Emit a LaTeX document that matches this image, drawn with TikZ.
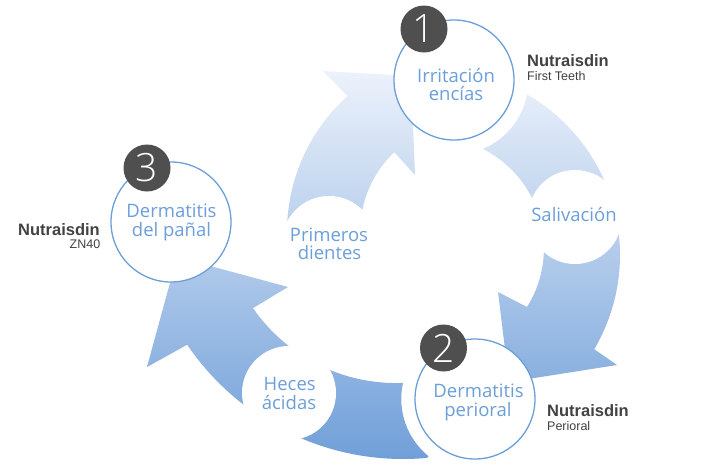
\documentclass[tikz,border=0pt]{standalone}
\usepackage{fontspec}
\setmainfont{Liberation Sans}
\newfontfamily\labfont{Open Sans}
\newfontfamily\thinfont{Open Sans Light}
\definecolor{ringblue}{HTML}{6C9FD9}
\definecolor{badgegray}{HTML}{4F4F4F}
\definecolor{prodgray}{HTML}{424242}
\definecolor{gtop}{RGB}{240,244,252}
\definecolor{gbot}{RGB}{112,159,216}
\begin{document}
\begin{tikzpicture}[x=1pt,y=-1pt,
  stage/.style={circle, draw=ringblue, line width=1.3pt, fill=white, minimum size=120pt, inner sep=0pt},
  blob/.style={circle, fill=white, minimum size=94pt, inner sep=0pt},
  badgecirc/.style={circle, fill=badgegray, minimum size=47pt, inner sep=0pt, text=white, font=\thinfont\fontsize{39}{39}\selectfont},
  lab/.style={text=ringblue, font=\labfont\fontsize{18.5}{20}\selectfont, anchor=base, inner sep=0pt},
  prodname/.style={text=prodgray, font=\bfseries\fontsize{16.5}{18}\selectfont, inner sep=0pt},
  prodsub/.style={text=prodgray, font=\fontsize{12.5}{13}\selectfont, inner sep=0pt},
]
\useasboundingbox (0,0) rectangle (709,474);
\fill[white] (0,0) rectangle (709,474);
% curved arrows with one common vertical gradient
\begin{scope}
\clip
  (470,232) ++(181:183) arc[start angle=181, end angle=228, radius=183]
    -- (323,71) -- (411,76) -- (415,175) -- (394.3,152.2)
    arc[start angle=226.5, end angle=185, radius=110] -- cycle
  (435,255) ++(-60.4:185) arc[start angle=-60.4, end angle=30.6, radius=185]
    -- (617,365) -- (509,382) -- (498,292) -- (527.0,307.0)
    arc[start angle=32.1, end angle=-63.2, radius=111]
    arc[start angle=67.2, end angle=11.0, radius=74] -- cycle
  (403,198) ++(84.7:261) arc[start angle=84.7, end angle=145.8, radius=261]
    -- (147,367) -- (177,257) -- (288,287) -- (253.0,308.1)
    arc[start angle=145.3, end angle=87.7, radius=174]
    arc[start angle=192.5, end angle=129.1, radius=74] -- cycle;
\shade[top color=gtop, bottom color=gbot] (0,60) rectangle (709,460);
\end{scope}
% intermediate blobs
\node[blob] (prim) at (329,243) {};
\node[blob] (saliv) at (575,217) {};
\node[blob] (heces) at (289,393) {};
% stage circles
\node[stage] (s1) at (454,80) {};
\node[stage] (s2) at (475,399) {};
\node[stage] (s3) at (171,222) {};
\node[badgecirc] (b1) at (424,29) {1};
\node[badgecirc] (b2) at (443.5,348) {2};
\node[badgecirc] (b3) at (147,168) {3};
% stage texts
\node[lab] (s1a) at (456,82) {Irritación};
\node[lab] (s1b) at (456,100) {encías};
\node[lab] (s2a) at (478.5,397) {Dermatitis};
\node[lab] (s2b) at (478,416) {perioral};
\node[lab] (s3a) at (171.5,217.7) {Dermatitis};
\node[lab] (s3b) at (171.5,236.7) {del pañal};
% blob texts
\node[lab] (pa) at (329,241) {Primeros};
\node[lab] (pb) at (329.5,259.3) {dientes};
\node[lab] (sa) at (574,221.7) {Salivación};
\node[lab] (ha) at (289.7,390.7) {Heces};
\node[lab] (hb) at (289,409.3) {ácidas};
% product names
\node[prodname, anchor=base west] (n1) at (527,66) {Nutraisdin};
\node[prodsub, anchor=base west] (n1s) at (527,80) {First Teeth};
\node[prodname, anchor=base west] (n2) at (547,416.5) {Nutraisdin};
\node[prodsub, anchor=base west] (n2s) at (547,430) {Perioral};
\node[prodname, anchor=base east] (n3) at (100,235) {Nutraisdin};
\node[prodsub, anchor=base east] (n3s) at (100.5,248.5) {ZN40};
\end{tikzpicture}
\end{document}
